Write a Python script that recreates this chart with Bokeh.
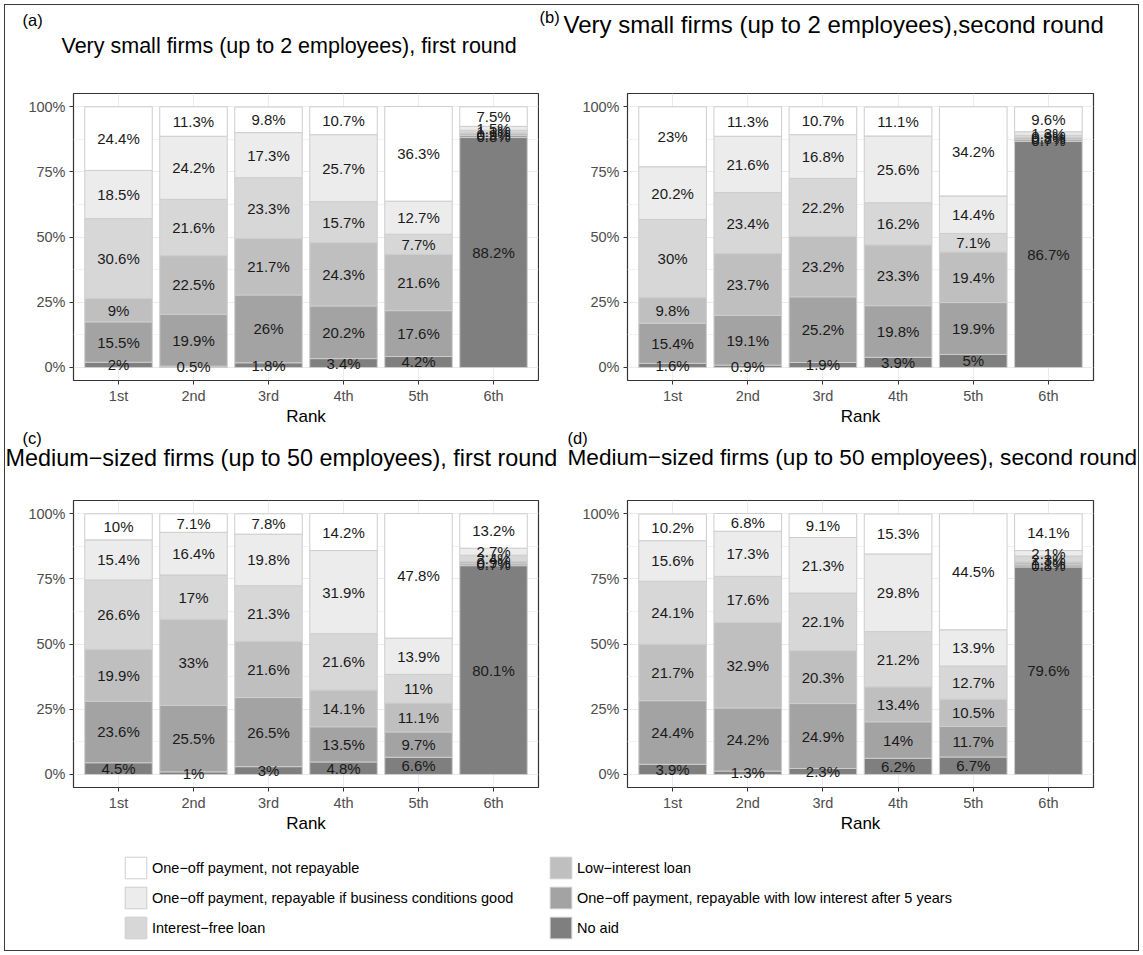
import numpy as np
from bokeh.plotting import figure
from bokeh.models import (Range1d, FixedTicker, ColumnDataSource, Legend, LegendItem)
from bokeh.layouts import column, row
from bokeh.embed import file_html
from bokeh.resources import INLINE
from bokeh.core.properties import value

FONT = "Liberation Sans"

ranks = ["1st", "2nd", "3rd", "4th", "5th", "6th"]
# categories, stacked bottom -> top
categories = [
    "No aid",
    "One\u2212off payment, repayable with low interest after 5 years",
    "Low\u2212interest loan",
    "Interest\u2212free loan",
    "One\u2212off payment, repayable if business conditions good",
    "One\u2212off payment, not repayable",
]
colors = ["#7f7f7f", "#a3a3a3", "#bfbfbf", "#d7d7d7", "#ececec", "#ffffff"]

panel_tags = ["(a)", "(b)", "(c)", "(d)"]
panel_titles = [
    "Very small firms (up to 2 employees), first round",
    "Very small firms (up to 2 employees),second round",
    "Medium\u2212sized firms (up to 50 employees), first round",
    "Medium\u2212sized firms (up to 50 employees), second round",
]

# (a) Very small firms, first round
a_no_aid = [2, 0.5, 1.8, 3.4, 4.2, 88.2]
a_repay5 = [15.5, 19.9, 26, 20.2, 17.6, 0.8]
a_low_interest = [9, 22.5, 21.7, 24.3, 21.6, 0.9]
a_interest_free = [30.6, 21.6, 23.3, 15.7, 7.7, 1.1]
a_repay_good = [18.5, 24.2, 17.3, 25.7, 12.7, 1.5]
a_not_repay = [24.4, 11.3, 9.8, 10.7, 36.3, 7.5]

# (b) Very small firms, second round
b_no_aid = [1.6, 0.9, 1.9, 3.9, 5, 86.7]
b_repay5 = [15.4, 19.1, 25.2, 19.8, 19.9, 0.7]
b_low_interest = [9.8, 23.7, 23.2, 23.3, 19.4, 0.8]
b_interest_free = [30, 23.4, 22.2, 16.2, 7.1, 0.9]
b_repay_good = [20.2, 21.6, 16.8, 25.6, 14.4, 1.3]
b_not_repay = [23, 11.3, 10.7, 11.1, 34.2, 9.6]

# (c) Medium-sized firms, first round
c_no_aid = [4.5, 1, 3, 4.8, 6.6, 80.1]
c_repay5 = [23.6, 25.5, 26.5, 13.5, 9.7, 0.7]
c_low_interest = [19.9, 33, 21.6, 14.1, 11.1, 0.9]
c_interest_free = [26.6, 17, 21.3, 21.6, 11, 2.4]
c_repay_good = [15.4, 16.4, 19.8, 31.9, 13.9, 2.7]
c_not_repay = [10, 7.1, 7.8, 14.2, 47.8, 13.2]

# (d) Medium-sized firms, second round
d_no_aid = [3.9, 1.3, 2.3, 6.2, 6.7, 79.6]
d_repay5 = [24.4, 24.2, 24.9, 14, 11.7, 0.8]
d_low_interest = [21.7, 32.9, 20.3, 13.4, 10.5, 1.1]
d_interest_free = [24.1, 17.6, 22.1, 21.2, 12.7, 2.3]
d_repay_good = [15.6, 17.3, 21.3, 29.8, 13.9, 2.1]
d_not_repay = [10.2, 6.8, 9.1, 15.3, 44.5, 14.1]

y_ticks = [0, 25, 50, 75, 100]
y_tick_labels = ["0%", "25%", "50%", "75%", "100%"]

keys = ["no_aid", "repay5", "low_interest", "interest_free", "repay_good", "not_repay"]

X0, X1 = 0.4, 6.6
Y0, Y1 = -5.0, 105.1
FRAME_H = 288
BOTTOM = 47
W = 1143


def make_panel(vals, width, left, right, top):
    p = figure(width=width, height=top + FRAME_H + BOTTOM,
               x_range=Range1d(X0, X1), y_range=Range1d(Y0, Y1),
               toolbar_location=None, output_backend="svg",
               min_border_left=left, min_border_right=right,
               min_border_top=top, min_border_bottom=BOTTOM)
    xs = list(range(1, len(ranks) + 1))
    data = dict(x=xs)
    for k, v in zip(keys, vals):
        data[k] = v
    src = ColumnDataSource(data)
    p.vbar_stack(keys, x="x", width=0.9, source=src,
                 fill_color=colors, line_color="#cdcdcd", line_width=1)

    # value labels at segment centres
    arr = np.array(vals, dtype=float)
    cum = np.cumsum(arr, axis=0)
    lx, ly, lt = [], [], []
    for ci in range(arr.shape[0]):
        for ri in range(arr.shape[1]):
            lx.append(xs[ri])
            ly.append(cum[ci, ri] - arr[ci, ri] / 2.0)
            lt.append(f"{arr[ci, ri]:g}%")
    lsrc = ColumnDataSource(dict(x=lx, y=ly, t=lt))
    p.text(x="x", y="y", text="t", source=lsrc, text_align="center",
           text_baseline="middle", text_font=value(FONT),
           text_font_size="15px", text_color="#1a1a1a")

    p.xaxis.ticker = FixedTicker(ticks=xs)
    p.xaxis.major_label_overrides = {x: r for x, r in zip(xs, ranks)}
    p.yaxis.ticker = FixedTicker(ticks=y_ticks, minor_ticks=[12.5, 37.5, 62.5, 87.5])
    p.yaxis.major_label_overrides = {t: l for t, l in zip(y_ticks, y_tick_labels)}
    for ax in (p.xaxis[0], p.yaxis[0]):
        ax.axis_line_color = None
        ax.major_tick_in = 0
        ax.major_tick_out = 4
        ax.major_tick_line_color = "#333333"
        ax.minor_tick_line_color = None
        ax.major_label_standoff = 3
        ax.major_label_text_font = FONT
        ax.major_label_text_font_size = "14.5px"
        ax.major_label_text_color = "#4d4d4d"
    p.yaxis.major_label_standoff = 4
    p.xaxis.axis_label = "Rank"
    p.xaxis.axis_label_text_font = FONT
    p.xaxis.axis_label_text_font_size = "17px"
    p.xaxis.axis_label_text_font_style = "normal"
    p.xaxis.axis_label_text_color = "#000000"
    p.xaxis.axis_label_standoff = 0

    p.xgrid.grid_line_color = "#ebebeb"
    p.ygrid.grid_line_color = "#ebebeb"
    p.ygrid.minor_grid_line_color = "#f2f2f2"
    p.ygrid.minor_grid_line_width = 1
    p.outline_line_color = "#333333"
    p.outline_line_width = 1.2
    p.background_fill_alpha = 0
    p.border_fill_alpha = 0
    return p


def heading_strip(height, tags, titles, tag_xy, title_xy, title_sizes):
    """A strip holding the panel headings; its ranges are in pixels from its top-left."""
    s = figure(width=W, height=height, x_range=Range1d(0, W), y_range=Range1d(height, 0),
               toolbar_location=None, output_backend="svg", min_border=0,
               x_axis_type=None, y_axis_type=None)
    s.outline_line_color = None
    s.background_fill_alpha = 0
    s.border_fill_alpha = 0
    s.text(x=[p[0] for p in tag_xy], y=[p[1] for p in tag_xy], text=tags,
           text_align="left", text_baseline="middle", text_font=value(FONT),
           text_font_size="16.5px", text_color="#000000")
    for t, (x, y), fs in zip(titles, title_xy, title_sizes):
        s.text(x=[x], y=[y], text=[t], text_align="left", text_baseline="middle",
               text_font=value(FONT), text_font_size=fs, text_color="#000000")
    return s


# row 1
H1 = 80
head1 = heading_strip(H1, panel_tags[:2], panel_titles[:2],
                      [(22, 19), (539, 16)], [(61, 45), (563, 24)], ["21.5px", "24px"])
pa = make_panel([a_no_aid, a_repay5, a_low_interest, a_interest_free, a_repay_good, a_not_repay],
                539, 73, 1, 93 - H1)
pb = make_panel([b_no_aid, b_repay5, b_low_interest, b_interest_free, b_repay_good, b_not_repay],
                604, 88, 50, 93 - H1)
row1_bottom = H1 + (93 - H1) + FRAME_H + BOTTOM  # 428

# row 2
H2 = 490 - row1_bottom
head2 = heading_strip(H2, panel_tags[2:], panel_titles[2:],
                      [(22, 9), (567, 9)], [(5, 457 - row1_bottom), (567, 457 - row1_bottom)],
                      ["23.4px", "22.6px"])
pc = make_panel([c_no_aid, c_repay5, c_low_interest, c_interest_free, c_repay_good, c_not_repay],
                560, 73, 22, 500 - 490)
pd_ = make_panel([d_no_aid, d_repay5, d_low_interest, d_interest_free, d_repay_good, d_not_repay],
                 583, 67, 50, 500 - 490)
row2_bottom = 500 + FRAME_H + BOTTOM

# legend strip
LEG_H = 955 - row2_bottom
lf = figure(width=W, height=LEG_H, x_range=Range1d(0, 1), y_range=Range1d(0, 1),
            toolbar_location=None, output_backend="svg", min_border=0,
            x_axis_type=None, y_axis_type=None)
lf.outline_line_color = None
lf.background_fill_alpha = 0
lf.border_fill_alpha = 0
legend_order = [5, 4, 3, 2, 1, 0]
rends = {}
for i in range(len(categories)):
    # off-screen single mark so the legend swatch has something to draw from
    rends[i] = lf.vbar(x=[5], top=[5], bottom=[4], width=0.9,
                       fill_color=colors[i], line_color="#cdcdcd")
items = [LegendItem(label=categories[i], renderers=[rends[i]]) for i in legend_order]
leg = Legend(items=items, location=(122, 14), orientation="vertical", ncols=2,
             glyph_width=27, glyph_height=27, spacing=3, label_standoff=3,
             padding=0, margin=0, border_line_color=None, background_fill_alpha=0,
             label_text_font=FONT, label_text_font_size="14.5px", label_text_color="#000000",
             label_height=27, label_width=392)
lf.add_layout(leg)

layout = column(head1, row(pa, pb), head2, row(pc, pd_), lf,
                styles={"outline": "1.5px solid #3a3a3a", "outline-offset": "-5px"})

open("out.html", "w").write(file_html(layout, INLINE))
